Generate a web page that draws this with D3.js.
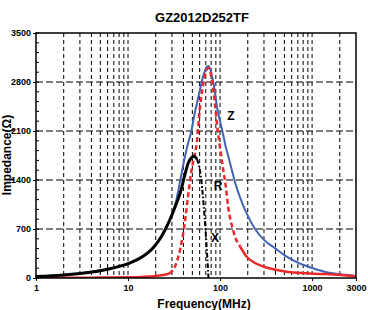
<!doctype html>
<html>
<head>
<script src="https://cdn.jsdelivr.net/npm/d3@7"></script>
<style>
  body { margin: 0; background: #fff; }
  text { font-family: Arial, "Liberation Sans", sans-serif; font-weight: bold; }
</style>
</head>
<body>
<svg width="368" height="310"></svg>
<script>
// data (MHz / ohm)
var freq = [1, 2, 3, 5, 7, 10, 14, 19, 23, 28, 33, 37, 41, 45, 49, 52, 56, 60, 64, 68, 72, 75, 78,
            82, 87, 92, 100, 108, 115, 123, 135, 146, 165, 195, 240, 300, 400, 530, 700, 900,
            1200, 1600, 2100, 2600, 3000];
var zVals = [22, 44, 66, 106, 147, 208, 298, 445, 600, 815, 1080, 1400, 1700, 1930, 2110, 2300, 2490, 2670, 2830, 2950, 3020, 3030, 2990,
             2880, 2700, 2470, 2240, 2050, 1880, 1740, 1530, 1360, 1150, 920, 700, 545, 420, 305, 220, 165,
             110, 70, 50, 38, 26];
var rVals = [2, 3, 4, 6, 8, 11, 16, 25, 38, 62, 190, 420, 750, 1180, 1540, 1720, 1940, 2400, 2680, 2870, 2980, 3000, 2960,
             2800, 2550, 2230, 1860, 1560, 1320, 1000, 740, 585, 450, 304, 215, 160, 118, 90, 75, 66,
             58, 52, 44, 33, 22];
var xVals = [20, 42, 65, 105, 145, 205, 295, 440, 590, 810, 1040, 1220, 1450, 1640, 1720, 1740, 1700, 1560, 1270, 860, 380, -20, -500];
var yTicks = [0, 700, 1400, 2100, 2800, 3500];
var xTicks = [1, 10, 100, 1000, 3000];

var svg = d3.select("svg"),
    mLeft = 36, mRight = 356, mTop = 33, mBottom = 278;

var x = d3.scaleLog().domain([1, 3000]).range([mLeft, mRight]),
    y = d3.scaleLinear().domain([0, 3500]).range([mBottom, mTop]);

svg.append("defs").append("clipPath").attr("id", "plot")
  .append("rect").attr("x", mLeft).attr("y", mTop).attr("width", mRight - mLeft).attr("height", mBottom - mTop);

// grid lines
var vGrid = [];
[1, 10, 100, 1000].forEach(function(d) {
  for (var k = 1; k <= 9; k++) { if (d * k > 1 && d * k < 3000) vGrid.push(d * k); }
});
svg.append("g").selectAll("line").data(vGrid).enter().append("line")
  .attr("x1", d => x(d)).attr("x2", d => x(d))
  .attr("y1", mTop).attr("y2", mBottom)
  .attr("stroke", "#000").attr("stroke-width", 1).attr("stroke-dasharray", "4,3");

svg.append("g").selectAll("line").data(yTicks.slice(1, -1)).enter().append("line")
  .attr("x1", mLeft).attr("x2", mRight)
  .attr("y1", d => y(d)).attr("y2", d => y(d))
  .attr("stroke", "#000").attr("stroke-width", 1).attr("stroke-dasharray", "7,3");

// minor y ticks
svg.append("g").selectAll("line").data(d3.range(0, 3501, 140)).enter().append("line")
  .attr("x1", mLeft).attr("x2", mLeft + 3)
  .attr("y1", d => y(d)).attr("y2", d => y(d))
  .attr("stroke", "#000").attr("stroke-width", 1);

// axes
var yAxis = svg.append("g").attr("transform", "translate(" + mLeft + ",0)")
  .call(d3.axisLeft(y).tickValues(yTicks).tickFormat(d3.format("d")).tickSize(3).tickPadding(2));
var xAxis = svg.append("g").attr("transform", "translate(0," + mBottom + ")")
  .call(d3.axisBottom(x).tickValues(xTicks).tickFormat(d3.format("d")).tickSize(3).tickPadding(4));
[yAxis, xAxis].forEach(function(a) {
  a.select(".domain").remove();
  a.selectAll("text").style("font-size", "9px").attr("fill", "#000");
});

// curves
var plot = svg.append("g").attr("clip-path", "url(#plot)");
function seg(vals, lo, hi) {
  return vals.map((v, i) => [freq[i], v]).filter(p => p[0] >= lo && p[0] <= hi);
}
var pl = d3.line().x(d => x(d[0])).y(d => y(d[1])).curve(d3.curveMonotoneX);

plot.append("path").attr("d", pl(seg(zVals, 1, 3000)))
  .attr("fill", "none").attr("stroke", "#4262b4").attr("stroke-width", 2);

plot.append("path").attr("d", pl(seg(rVals, 1, 28)))
  .attr("fill", "none").attr("stroke", "#ea2a2a").attr("stroke-width", 2.5);
plot.append("path").attr("d", pl(seg(rVals, 28, 165)))
  .attr("fill", "none").attr("stroke", "#ea2a2a").attr("stroke-width", 2.5).attr("stroke-dasharray", "5,3");
plot.append("path").attr("d", pl(seg(rVals, 165, 3000)))
  .attr("fill", "none").attr("stroke", "#ea2a2a").attr("stroke-width", 2.5);

plot.append("path").attr("d", pl(seg(xVals, 1, 56)))
  .attr("fill", "none").attr("stroke", "#000").attr("stroke-width", 3);
plot.append("path").attr("d", pl(seg(xVals, 56, 78)))
  .attr("fill", "none").attr("stroke", "#000").attr("stroke-width", 2).attr("stroke-dasharray", "5,2,1.5,2");

// frame
svg.append("rect").attr("x", mLeft).attr("y", mTop).attr("width", mRight - mLeft).attr("height", mBottom - mTop)
  .attr("fill", "none").attr("stroke", "#000").attr("stroke-width", 1.5);

// curve labels
svg.append("text").attr("x", 231).attr("y", 120).attr("text-anchor", "middle").style("font-size", "12px").text("Z");
svg.append("text").attr("x", 218).attr("y", 190).attr("text-anchor", "middle").style("font-size", "12px").text("R");
svg.append("text").attr("x", 215).attr("y", 242).attr("text-anchor", "middle").style("font-size", "12px").text("X");

// titles
svg.append("text").attr("x", 202).attr("y", 22).attr("text-anchor", "middle").style("font-size", "13px").text("GZ2012D252TF");
svg.append("text").attr("x", 204).attr("y", 308).attr("text-anchor", "middle").style("font-size", "12px").text("Frequency(MHz)");
svg.append("text").attr("transform", "translate(11,155)rotate(-90)").attr("text-anchor", "middle")
  .style("font-size", "12px").text("Impedance(Ω)");
</script>
</body>
</html>
